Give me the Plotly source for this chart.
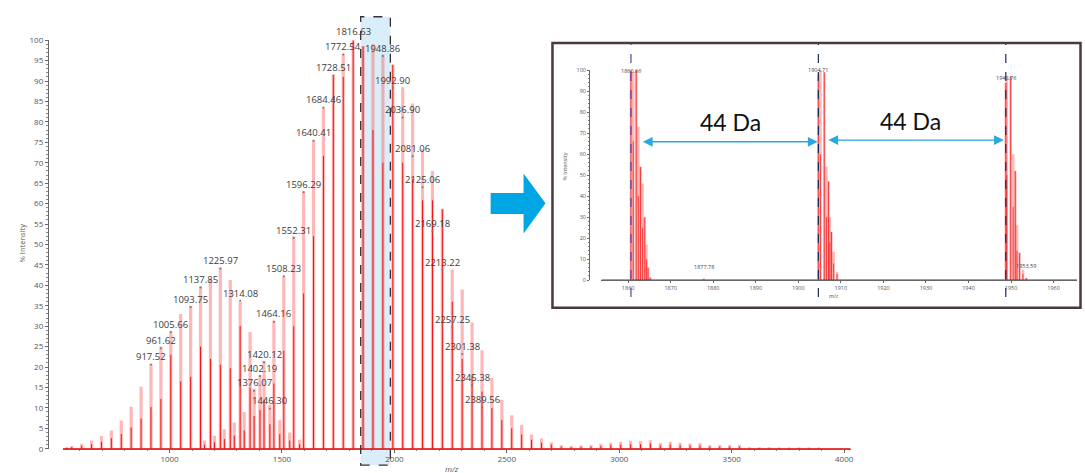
import plotly.graph_objects as go

W, H = 1085, 473

# ---------------- main spectrum ----------------
# lower-mass charge envelope
a_mz = [543.0, 565.1, 609.2, 653.2, 697.3, 741.3, 785.4, 829.4, 873.5, 917.52,
        961.62, 1005.66, 1049.70, 1093.75, 1137.85, 1181.90, 1225.97, 1270.02, 1314.08, 1358.13,
        1402.19, 1446.30, 1490.34, 1534.39, 1578.43]
a_int = [0.4, 0.7, 1.2, 2.0, 3.1, 4.5, 6.9, 10.3, 15.2, 20.7,
         25.0, 28.8, 33.0, 35.0, 39.8, 41.5, 44.3, 41.3, 36.0, 28.6,
         18.0, 10.8, 7.0, 4.0, 2.2]
a_core = [0.2, 0.4, 0.7, 1.1, 1.7, 2.6, 3.6, 5.2, 7.4, 10.2,
          12.2, 23.0, 16.5, 17.6, 25.0, 22.0, 20.6, 19.7, 30.0, 15.0,
          9.5, 6.0, 3.6, 2.0, 1.1]

# main charge envelope
b_mz = [1155.8, 1199.85, 1243.9, 1287.97, 1332.02, 1376.07, 1420.12, 1464.16, 1508.23, 1552.31,
        1596.29, 1640.41, 1684.46, 1728.51, 1772.54, 1816.63, 1860.66, 1904.71, 1948.86, 1992.90,
        2036.90, 2081.06, 2125.06, 2169.18, 2213.22, 2257.25, 2301.38, 2345.38, 2389.56, 2433.6,
        2477.7, 2521.7, 2565.8, 2609.8, 2653.9, 2697.9, 2742.0, 2786.0, 2830.1, 2874.1,
        2918.2, 2962.2, 3006.3, 3050.3, 3094.4, 3138.4, 3182.5, 3226.5, 3270.6, 3314.6,
        3358.7, 3402.7, 3446.8, 3490.8, 3534.9, 3578.9, 3623.0, 3667.0, 3711.1, 3755.1,
        3799.2, 3843.2, 3887.3]
b_int = [2.0, 3.2, 4.8, 6.4, 9.0, 14.7, 21.5, 31.4, 42.2, 52.0,
         63.0, 75.5, 83.5, 91.6, 96.7, 100.0, 98.5, 99.0, 96.5, 94.0,
         88.5, 84.5, 73.3, 68.0, 58.8, 43.9, 39.0, 30.9, 24.1, 17.3,
         12.0, 8.2, 5.9, 3.5, 2.5, 1.6, 0.9, 0.7, 0.8, 0.9,
         1.2, 1.5, 1.7, 1.9, 1.9, 2.1, 1.4, 1.7, 1.5, 1.3,
         1.4, 0.9, 0.9, 0.9, 0.9, 0.4, 0.4, 0.4, 0.3, 0.3,
         0.3, 0.3, 0.3]
b_core = [1.0, 1.6, 2.4, 3.2, 4.5, 8.0, 12.0, 16.0, 24.0, 30.0,
          38.0, 52.0, 71.7, 91.0, 91.0, 100.0, 98.5, 78.0, 70.0, 94.0,
          70.0, 66.0, 60.8, 60.8, 58.6, 36.0, 22.0, 18.0, 14.0, 10.0,
          7.0, 5.0, 3.5, 2.2, 1.5, 1.0, 0.5, 0.4, 0.5, 0.5,
          0.7, 0.9, 1.0, 1.1, 1.1, 1.3, 0.8, 1.0, 0.9, 0.8,
          0.8, 0.5, 0.5, 0.5, 0.5, 0.2, 0.2, 0.2, 0.2, 0.2,
          0.2, 0.2, 0.2]

# annotated peaks (m/z) and the height of each label's centre (% intensity)
lab_mz = [917.52, 961.62, 1005.66, 1093.75, 1137.85, 1225.97, 1314.08, 1376.07, 1402.19, 1420.12,
          1446.30, 1464.16, 1508.23, 1552.31, 1596.29, 1640.41, 1684.46, 1728.51, 1772.54, 1816.63,
          1948.86, 1992.90, 2036.90, 2081.06, 2125.06, 2169.18, 2213.22, 2257.25, 2301.38, 2345.38,
          2389.56]
lab_y = [22.5, 26.5, 30.4, 36.6, 41.4, 46.0, 38.1, 16.1, 19.7, 23.1,
         11.7, 33.0, 44.1, 53.5, 64.7, 77.3, 85.4, 93.2, 98.4, 102.2,
         98.0, 90.2, 83.0, 73.5, 65.9, 55.1, 45.7, 31.7, 25.1, 17.5,
         12.0]

main_range = [525.5, 4028.8]
highlight = [1850, 1982]

# ---------------- zoomed inset ----------------
ins_mz = [1860.66, 1861.2, 1861.9, 1862.4, 1862.9, 1863.4, 1863.9, 1864.3, 1864.7, 1865.2,
          1877.78,
          1904.71, 1905.2, 1906.1, 1906.6, 1907.1, 1907.4, 1907.8, 1908.3, 1909.1,
          1948.76, 1949.0, 1949.9, 1950.5, 1951.0, 1951.4, 1952.0, 1952.8, 1953.59]
ins_int = [100, 99, 100, 73, 54, 46, 30, 17, 6, 1.5,
           0.8,
           98, 100, 99, 54, 47, 30, 23, 13.5, 4,
           94, 96, 97, 60, 52, 26, 13, 5, 1.2]
ins_core = [100, 66, 100, 40, 54, 25, 30, 10, 6, 1,
            0.5,
            98, 60, 99, 30, 47, 18, 23, 8, 3,
            94, 50, 97, 35, 52, 14, 13, 3, 1]
ins_labels = ["1860.66", "1904.71", "1948.76", "1877.78", "1953.59"]
ins_lab_x = [1860.66, 1904.71, 1948.76, 1877.78, 1953.59]
ins_lab_y = [102.3, 103.0, 99.3, 3.4, 3.7]
ins_marks = [1860.66, 1904.71, 1948.76]
ins_range = [1853.7, 1965.5]
gap_da = ["44 Da", "44 Da"]


def px(x):
    return x / W


def py(y):
    return 1 - y / H


def sticks(mz, h):
    xs, ys = [], []
    for m, v in zip(mz, h):
        xs += [m, m, None]
        ys += [0, v, None]
    return xs, ys


PINK = "rgba(255,75,75,0.40)"
RED = "rgba(240,0,0,0.9)"

fig = go.Figure()

# main spectrum sticks
px_, py_ = sticks(a_mz + b_mz, a_int + b_int)
fig.add_trace(go.Scatter(x=px_, y=py_, mode="lines", line=dict(color=PINK, width=3.2),
                         xaxis="x", yaxis="y", hoverinfo="skip", showlegend=False))
cx_, cy_ = sticks(a_mz + b_mz, a_core + b_core)
fig.add_trace(go.Scatter(x=cx_, y=cy_, mode="lines", line=dict(color=RED, width=1.0),
                         xaxis="x", yaxis="y", hoverinfo="skip", showlegend=False))
fig.add_trace(go.Scatter(x=main_range, y=[0, 0], mode="lines", line=dict(color="#e00000", width=1.3),
                         xaxis="x", yaxis="y", hoverinfo="skip", showlegend=False))

# inset sticks
ix_, iy_ = sticks(ins_mz, ins_int)
fig.add_trace(go.Scatter(x=ix_, y=iy_, mode="lines", line=dict(color="rgba(255,90,90,0.42)", width=2.6),
                         xaxis="x2", yaxis="y2", hoverinfo="skip", showlegend=False))
jx_, jy_ = sticks(ins_mz, ins_core)
fig.add_trace(go.Scatter(x=jx_, y=jy_, mode="lines", line=dict(color="rgba(240,0,0,0.75)", width=0.9),
                         xaxis="x2", yaxis="y2", hoverinfo="skip", showlegend=False))
fig.add_trace(go.Scatter(x=ins_range, y=[0, 0], mode="lines", line=dict(color="#e00000", width=1.2),
                         xaxis="x2", yaxis="y2", hoverinfo="skip", showlegend=False))

# small ticks under each peak label
fig.add_trace(go.Scatter(x=lab_mz, y=[v - 1.9 for v in lab_y], mode="markers",
                         marker=dict(size=2, color="#777"),
                         xaxis="x", yaxis="y", hoverinfo="skip", showlegend=False, cliponaxis=False))

annotations = []
label_font = dict(family="Open Sans", size=9.5, color="#3c3c3c")
# labels are placed on the y-domain so that those above 100 % are still drawn
for m, y in zip(lab_mz, lab_y):
    annotations.append(dict(x=m, y=y / 100, xref="x", yref="y domain", text=f"{m:.2f}", showarrow=False,
                            font=label_font, xanchor="center", yanchor="middle"))

annotations.append(dict(x=px(15), y=py(243), xref="paper", yref="paper", text="% Intensity",
                        textangle=-90, showarrow=False, font=dict(family="Open Sans", size=7.5, color="#555")))
annotations.append(dict(x=px(453), y=py(466), xref="paper", yref="paper", text="<i>m/z</i>",
                        showarrow=False, yanchor="top", font=dict(family="Open Sans", size=8, color="#555")))

# inset labels
for t, x, y in zip(ins_labels, ins_lab_x, ins_lab_y):
    annotations.append(dict(x=x, y=y / 100, xref="x2", yref="y2 domain", text=t, showarrow=False,
                            font=dict(family="Open Sans", size=5.5, color="#444")))
annotations.append(dict(x=px(567), y=py(164), xref="paper", yref="paper", text="% Intensity",
                        textangle=-90, showarrow=False, font=dict(family="Open Sans", size=5.5, color="#555")))
annotations.append(dict(x=px(843), y=py(297), xref="paper", yref="paper", text="<i>m/z</i>",
                        showarrow=False, font=dict(family="Open Sans", size=5.5, color="#555")))

# 44 Da spacing arrows
arrow_spans = [(1863.1, 1904.55, 65.9), (1906.7, 1948.3, 66.7)]
for (x0, x1, y) in arrow_spans:
    annotations.append(dict(x=x1, y=y, ax=x0, ay=y, xref="x2", yref="y2", axref="x2", ayref="y2",
                            text="", showarrow=True, arrowside="end+start", arrowhead=2,
                            arrowsize=1.4, arrowwidth=1.4, arrowcolor="#2aa8e0"))
for t, x, y in zip(gap_da, [1884.15, 1926.4], [75.2, 75.7]):
    annotations.append(dict(x=x, y=y, xref="x2", yref="y2", text=t, showarrow=False,
                            font=dict(family="Lato", size=23, color="#111")))

shapes = [
    # inset frame
    dict(type="rect", xref="paper", yref="paper", x0=px(554), x1=px(1083.5), y0=py(309), y1=py(38),
         line=dict(color="#4a3a3a", width=2.5), fillcolor="white", layer="below"),
    # highlighted window on the main spectrum
    dict(type="rect", xref="x", yref="paper", x0=highlight[0], x1=highlight[1], y0=py(470), y1=py(11),
         line=dict(width=0), fillcolor="rgba(198,229,247,0.65)", layer="below"),
    dict(type="rect", xref="x", yref="paper", x0=highlight[0], x1=highlight[1], y0=py(470), y1=py(11),
         line=dict(color="#333", width=1.3, dash="dash"), fillcolor="rgba(0,0,0,0)", layer="above"),
    # block arrow pointing to the inset
    dict(type="path", xref="paper", yref="paper",
         path=(f"M {px(492)},{py(191.5)} L {px(525)},{py(191.5)} L {px(525)},{py(171.5)} "
               f"L {px(547)},{py(202)} L {px(525)},{py(233)} L {px(525)},{py(213)} "
               f"L {px(492)},{py(213)} Z"),
         fillcolor="#00a6e4", line=dict(width=0)),
]
for m, c in zip(ins_marks, ["#5a3fa6", "#1d2a5c", "#1d2a5c"]):
    shapes.append(dict(type="line", xref="x2", yref="paper", x0=m, x1=m, y0=py(298), y1=py(39),
                       line=dict(color=c, width=1.2, dash="dash")))

axis_common = dict(showgrid=False, zeroline=False, showline=True, linecolor="#666",
                   ticks="outside", tickcolor="#666")

fig.update_layout(
    width=W, height=H, margin=dict(l=0, r=0, t=0, b=0),
    paper_bgcolor="white", plot_bgcolor="rgba(0,0,0,0)",
    font=dict(family="Open Sans"),
    showlegend=False,
    xaxis=dict(domain=[px(63), px(853)], range=main_range, anchor="y", dtick=500, tick0=0,
               ticklen=3, tickfont=dict(size=8, color="#555"),
               minor=dict(dtick=100, tick0=0, ticks="outside", ticklen=1.5, tickcolor="#888"),
               **axis_common),
    yaxis=dict(domain=[py(453.3), py(35)], range=[0, 100], anchor="free", position=px(48),
               dtick=5, ticklen=3, tickfont=dict(size=8, color="#555"),
               minor=dict(dtick=1, ticks="outside", ticklen=1.5, tickcolor="#888"),
               **axis_common),
    xaxis2=dict(domain=[px(603), px(1080)], range=ins_range, anchor="y2", dtick=10,
                ticklen=2, tickfont=dict(size=5.5, color="#555"), **axis_common),
    yaxis2=dict(domain=[py(280.7), py(65.7)], range=[0, 100], anchor="free", position=px(590.7),
                dtick=10, ticklen=2, tickfont=dict(size=5.5, color="#555"),
                minor=dict(dtick=2, ticks="outside", ticklen=1, tickcolor="#888"),
                **axis_common),
    annotations=annotations,
    shapes=shapes,
)

fig.write_html("out.html")
